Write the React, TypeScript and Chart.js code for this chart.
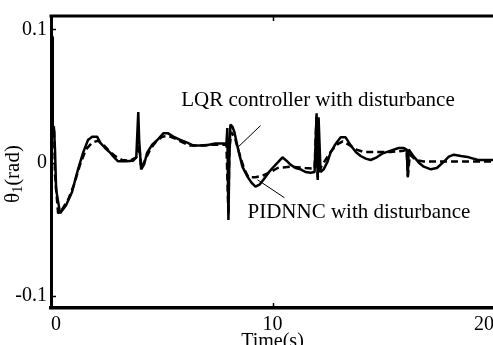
import React, { useEffect, useRef } from "react";
import { Chart, registerables } from "chart.js";

Chart.register(...registerables);

// ---- data ----
const timeLQR = [
  0, 0.07, 0.08, 0.13, 0.18, 0.23, 0.41, 0.68, 0.95, 1.09, 1.22, 1.45, 1.67, 1.86, 2.08, 2.22, 2.44, 2.67, 2.85,
  3.03, 3.39, 3.71, 3.85, 3.94, 3.98, 4.07, 4.21, 4.34, 4.57, 4.8, 5.07, 5.29, 5.52, 5.84, 6.15, 6.43, 6.97,
  7.42, 7.92, 7.96, 8.01, 8.05, 8.1, 8.19, 8.28, 8.42, 8.64, 8.87, 9.05, 9.23, 9.41, 9.59, 9.82, 10.0, 10.23,
  10.45, 10.63, 10.81, 11.04, 11.27, 11.49, 11.72, 11.9, 11.99, 12.04, 12.08, 12.17, 12.31, 12.49, 12.62,
  12.81, 12.94, 13.08, 13.3, 13.53, 13.76, 13.98, 14.21, 14.43, 14.71, 14.98, 15.34, 15.7, 15.93, 16.06,
  16.11, 16.15, 16.38, 16.61, 16.83, 17.15, 17.42, 17.74, 17.96, 18.19, 18.51, 18.87, 19.28, 20.0,
];
const thetaLQR = [
  0.097, 0.094, 0.027, 0.027, 0.01, -0.02, -0.038, -0.032, -0.022, -0.013, -0.005, 0.0075, 0.017, 0.0195, 0.0195,
  0.015, 0.011, 0.0075, 0.004, 0.001, 0.001, 0.0015, 0.004, 0.038, 0.017, -0.005, -0.001, 0.0075, 0.0135,
  0.017, 0.022, 0.022, 0.0195, 0.017, 0.015, 0.0128, 0.0128, 0.0143, 0.0143, 0.026, -0.043, 0.002, 0.0286,
  0.027, 0.023, 0.012, -0.003, -0.0105, -0.015, -0.018, -0.0165, -0.0128, -0.0075, -0.004, 0.0, 0.004,
  0.0015, -0.0015, -0.004, -0.005, -0.007, -0.0075, -0.007, 0.037, -0.013, 0.034, -0.007, -0.005, 0.001,
  0.0075, 0.013, 0.016, 0.019, 0.019, 0.013, 0.008, 0.005, 0.003, 0.002, 0.004, 0.007, 0.009, 0.011, 0.011,
  0.0098, -0.011, 0.0098, 0.0045, 0.0, -0.003, -0.005, -0.004, 0.0008, 0.0045, 0.006, 0.005, 0.004, 0.002,
  0.002,
];
const timePID = [
  0, 0.05, 0.06, 0.14, 0.18, 0.32, 0.5, 0.77, 1.04, 1.31, 1.58, 1.86, 2.13, 2.4, 2.67, 2.94, 3.21, 3.57, 3.85,
  3.98, 4.07, 4.25, 4.48, 4.75, 5.02, 5.29, 5.61, 5.97, 6.29, 6.74, 7.19, 7.92, 8.01, 8.05, 8.14, 8.33,
  8.55, 8.73, 8.91, 9.23, 9.55, 9.91, 10.23, 10.81, 11.49, 11.9, 11.99, 12.04, 12.13, 12.35, 12.62, 12.9,
  13.17, 13.44, 13.76, 14.12, 14.66, 15.34, 15.93, 16.06, 16.11, 16.2, 16.47, 16.83, 17.6, 18.51, 20.0,
];
const thetaPID = [
  0.097, 0.094, 0.027, 0.027, -0.009, -0.038, -0.035, -0.028, -0.0165, -0.0015, 0.01, 0.015, 0.0165, 0.0128,
  0.008, 0.0045, 0.002, 0.0015, 0.004, 0.0135, -0.004, 0.002, 0.01, 0.016, 0.0195, 0.02, 0.018, 0.015,
  0.0128, 0.0128, 0.0135, 0.0135, -0.039, 0.01, 0.023, 0.017, 0.004, -0.005, -0.011, -0.011, -0.0098,
  -0.007, -0.004, -0.003, -0.004, -0.0045, 0.036, -0.011, -0.005, 0.001, 0.008, 0.0135, 0.016, 0.0135,
  0.01, 0.008, 0.008, 0.008, 0.009, 0.0098, -0.01, 0.006, 0.002, 0.0008, 0.0008, 0.0008, 0.0008,
];
const xTickValues = [0, 10, 20];
const yTickValues = [-0.1, 0, 0.1];
const xTitle = "Time(s)";
const yTitleSymbol = "θ";
const yTitleSub = "1";
const yTitleUnit = "(rad)";
const labelLQR = "LQR controller with disturbance";
const labelPID = "PIDNNC with disturbance";

// annotation anchors in data coordinates
const annLQR = { tx: 5.88, ty: 0.0466, x1: 8.42, y1: 0.0113, x2: 9.46, y2: 0.0278 };
const annPID = { tx: 8.87, ty: -0.0376, x1: 9.32, y1: -0.0128, x2: 10.54, y2: -0.0263 };

const serif = '"Liberation Serif", "Times New Roman", serif';

const overlay = {
  id: "overlay",
  afterDraw(chart: any) {
    const { ctx, chartArea: a, scales } = chart;
    const xs = scales.x;
    const ys = scales.y;
    ctx.save();
    ctx.strokeStyle = "#000";
    ctx.fillStyle = "#000";
    // top border
    ctx.lineWidth = 3;
    ctx.beginPath();
    ctx.moveTo(a.left - 1.5, a.top);
    ctx.lineTo(a.right + 3, a.top);
    ctx.stroke();
    // inward ticks
    ctx.lineWidth = 1.5;
    ctx.beginPath();
    xTickValues.forEach((v) => {
      const px = Math.round(xs.getPixelForValue(v)) + 0.5;
      ctx.moveTo(px, a.bottom);
      ctx.lineTo(px, a.bottom - 5);
      ctx.moveTo(px, a.top);
      ctx.lineTo(px, a.top + 5);
    });
    yTickValues.forEach((v) => {
      const py = Math.round(ys.getPixelForValue(v)) + 0.5;
      ctx.moveTo(a.left, py);
      ctx.lineTo(a.left + 5, py);
    });
    ctx.stroke();
    // annotations
    ctx.lineWidth = 1;
    [annLQR, annPID].forEach((an) => {
      ctx.beginPath();
      ctx.moveTo(xs.getPixelForValue(an.x1), ys.getPixelForValue(an.y1));
      ctx.lineTo(xs.getPixelForValue(an.x2), ys.getPixelForValue(an.y2));
      ctx.stroke();
    });
    ctx.font = `21px ${serif}`;
    ctx.textAlign = "left";
    ctx.textBaseline = "middle";
    ctx.fillText(labelLQR, xs.getPixelForValue(annLQR.tx), ys.getPixelForValue(annLQR.ty));
    ctx.fillText(labelPID, xs.getPixelForValue(annPID.tx), ys.getPixelForValue(annPID.ty));
    // y title (rotated, with subscript)
    ctx.textBaseline = "alphabetic";
    const mainFont = `21px ${serif}`;
    const subFont = `14px ${serif}`;
    ctx.font = mainFont;
    const w1 = ctx.measureText(yTitleSymbol).width;
    const w3 = ctx.measureText(yTitleUnit).width;
    ctx.font = subFont;
    const w2 = ctx.measureText(yTitleSub).width;
    const total = w1 + w2 + w3;
    ctx.translate(19, 174);
    ctx.rotate(-Math.PI / 2);
    let cx = -total / 2;
    ctx.font = mainFont;
    ctx.fillText(yTitleSymbol, cx, 0);
    cx += w1;
    ctx.font = subFont;
    ctx.fillText(yTitleSub, cx, 3);
    cx += w2;
    ctx.font = mainFont;
    ctx.fillText(yTitleUnit, cx, 0);
    ctx.restore();
  },
};

export default function App() {
  const ref = useRef<HTMLCanvasElement | null>(null);
  useEffect(() => {
    if (!ref.current) return;
    const chart = new Chart(ref.current, {
      type: "line",
      data: {
        datasets: [
          {
            label: "PIDNNC with disturbance",
            data: timePID.map((t, i) => ({ x: t, y: thetaPID[i] })),
            borderColor: "#000",
            borderWidth: 2.5,
            borderDash: [7, 4],
            pointRadius: 0,
            tension: 0,
            borderJoinStyle: "bevel",
          },
          {
            label: "LQR controller with disturbance",
            data: timeLQR.map((t, i) => ({ x: t, y: thetaLQR[i] })),
            borderColor: "#000",
            borderWidth: 2.5,
            pointRadius: 0,
            tension: 0,
            borderJoinStyle: "bevel",
          },
        ],
      },
      options: {
        animation: false,
        responsive: false,
        maintainAspectRatio: false,
        events: [],
        layout: { padding: { top: 16, right: 6, left: 0, bottom: 0 } },
        plugins: { legend: { display: false }, tooltip: { enabled: false } },
        scales: {
          x: {
            type: "linear",
            min: 0,
            max: 20,
            afterBuildTicks: (s: any) => {
              s.ticks = xTickValues.map((v) => ({ value: v }));
            },
            afterFit: (s: any) => {
              s.height = 44;
              s.paddingLeft = 0;
              s.paddingRight = 0;
            },
            grid: { display: false, drawTicks: false },
            border: { display: true, color: "#000", width: 3.5 },
            ticks: {
              align: "inner",
              padding: 5,
              color: "#000",
              font: { family: serif, size: 20 },
              maxRotation: 0,
              callback: (v: any) => String(v),
            },
            title: {
              display: true,
              text: xTitle,
              color: "#000",
              font: { family: serif, size: 20 },
              padding: { top: 0, bottom: -2 },
            },
          },
          y: {
            type: "linear",
            min: -0.109,
            max: 0.11,
            afterBuildTicks: (s: any) => {
              s.ticks = yTickValues.map((v) => ({ value: v }));
            },
            afterFit: (s: any) => {
              s.width = 51;
              s.paddingTop = 0;
              s.paddingBottom = 0;
            },
            grid: { display: false, drawTicks: false },
            border: { display: true, color: "#000", width: 3 },
            ticks: {
              padding: 4,
              color: "#000",
              font: { family: serif, size: 20 },
              callback: (v: any) => String(v),
            },
          },
        },
      },
      plugins: [overlay],
    });
    return () => chart.destroy();
  }, []);
  return (
    <div
      style={{
        position: "fixed",
        left: 0,
        top: 0,
        width: 493,
        height: 345,
        overflow: "hidden",
        background: "#fff",
      }}
    >
      <canvas ref={ref} width={500} height={352} style={{ display: "block", width: 500, height: 352 }} />
    </div>
  );
}
